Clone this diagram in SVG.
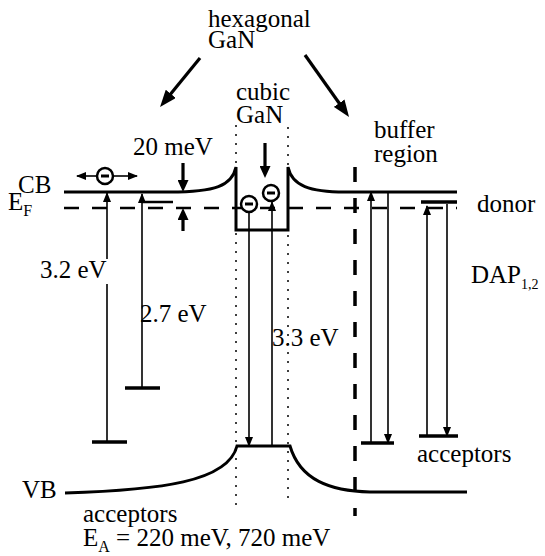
<svg xmlns="http://www.w3.org/2000/svg" width="545" height="556" viewBox="0 0 545 556">
<style>
.t{font-family:'Liberation Serif','DejaVu Serif','Times New Roman',serif;font-size:25px;fill:#000}
.sub{font-size:16px}
.band{fill:none;stroke:#000;stroke-width:3}
.lvl{stroke:#000;stroke-width:3.5}
.tr{stroke:#000;stroke-width:1.6;fill:none}
.big{stroke:#000;stroke-width:3.2;fill:none}
.dot{stroke:#000;stroke-width:1.5;stroke-dasharray:2 7;fill:none}
.ef{stroke:#000;stroke-width:2.5;stroke-dasharray:15 13;fill:none}
.buf{stroke:#000;stroke-width:3.5;stroke-dasharray:15 16;fill:none}
.el{fill:#fff;stroke:#000;stroke-width:2.5}
.minus{stroke:#000;stroke-width:3}
</style>
<defs>
<marker id="sa" markerUnits="userSpaceOnUse" markerWidth="10" markerHeight="8" refX="9" refY="4" orient="auto"><path d="M0,0 L10,4 L0,8 z" fill="#000"/></marker>
<marker id="ma" markerUnits="userSpaceOnUse" markerWidth="12" markerHeight="11" refX="6" refY="5.5" orient="auto"><path d="M0,0 L12,5.5 L0,11 z" fill="#000"/></marker>
<marker id="ba" markerUnits="userSpaceOnUse" markerWidth="17" markerHeight="13" refX="9" refY="6.5" orient="auto"><path d="M0,0 L17,6.5 L0,13 z" fill="#000"/></marker>
</defs>

<g id="labels" class="t" font-family="Liberation Serif, DejaVu Serif, serif" font-size="25">
<text x="208" y="27">hexagonal</text>
<text x="208" y="48">GaN</text>
<text x="236" y="100">cubic</text>
<text x="236" y="123">GaN</text>
<text x="374" y="138">buffer</text>
<text x="374" y="162">region</text>
<text x="133" y="155">20 meV</text>
<text x="18" y="193">CB</text>
<text x="8" y="210">E<tspan class="sub" dy="6">F</tspan></text>
<text x="40" y="278">3.2 eV</text>
<text x="140" y="322">2.7 eV</text>
<text x="272" y="346">3.3 eV</text>
<text x="477" y="212">donor</text>
<text x="471" y="283">DAP<tspan font-size="14" dy="6">1,2</tspan></text>
<text x="417" y="462">acceptors</text>
<text x="22" y="498">VB</text>
<text x="83" y="522">acceptors</text>
<text x="83" y="546">E<tspan class="sub" dy="6">A</tspan><tspan dy="-6"> = 220 meV, 720 meV</tspan></text>
</g>

<g id="bands">
<path class="band" d="M64,192 L170,192 C215,192 232,186 236,167 L236,230 L288,230 L288,167 C292,186 310,192 345,192 L457,192"/>
<path class="band" d="M65,493 C160,490 228,482 237,446 L290,446 C300,480 330,491 370,492 L467,492"/>
<line class="ef" x1="64" y1="208" x2="457" y2="208"/>
<line class="dot" x1="236" y1="125" x2="236" y2="505"/>
<line class="dot" x1="288" y1="127" x2="288" y2="505"/>
<line class="buf" x1="355" y1="167" x2="355" y2="516"/>
</g>

<g id="levels">
<line class="lvl" x1="92" y1="442" x2="127" y2="442"/>
<line class="lvl" x1="125" y1="388" x2="160" y2="388"/>
<line x1="142" y1="202" x2="173" y2="202" stroke="#000" stroke-width="2.5"/>
<line class="lvl" x1="421" y1="202" x2="457" y2="202"/>
<line class="lvl" x1="361" y1="443" x2="394" y2="443"/>
<line class="lvl" x1="419" y1="436" x2="458" y2="436"/>
</g>

<g id="electrons">
<line class="tr" x1="97" y1="176" x2="77" y2="176" marker-end="url(#sa)"/>
<line class="tr" x1="113" y1="176" x2="137" y2="176" marker-end="url(#sa)"/>
<circle class="el" cx="105" cy="176" r="8"/><line class="minus" x1="101" y1="176" x2="109" y2="176"/>
<circle class="el" cx="249" cy="204" r="8"/><line class="minus" x1="245" y1="204" x2="253" y2="204"/>
<circle class="el" cx="271" cy="193" r="8"/><line class="minus" x1="267" y1="193" x2="275" y2="193"/>
</g>

<g id="connectors">
<line class="big" x1="200" y1="58" x2="165.1" y2="100.8" marker-end="url(#ba)"/>
<line class="big" x1="305" y1="55" x2="344.4" y2="110.5" marker-end="url(#ba)"/>
<line class="big" x1="265" y1="143" x2="265" y2="172" marker-end="url(#ma)"/>
<line class="big" x1="183" y1="163" x2="183" y2="186" marker-end="url(#ma)"/>
<line class="big" x1="183" y1="231" x2="183" y2="214" marker-end="url(#ma)"/>
<path class="tr" d="M107,442 L107,284 M107,259 L107,193" marker-end="url(#sa)"/>
<line class="tr" x1="142" y1="388" x2="142" y2="194" marker-end="url(#sa)"/>
<line class="tr" x1="249" y1="212" x2="249" y2="446" marker-end="url(#sa)"/>
<line class="tr" x1="272" y1="446" x2="272" y2="202" marker-end="url(#sa)"/>
<line class="tr" x1="371" y1="443" x2="371" y2="192" marker-end="url(#sa)"/>
<line class="tr" x1="388" y1="192" x2="388" y2="443" marker-end="url(#sa)"/>
<line class="tr" x1="427" y1="436" x2="427" y2="206" marker-end="url(#sa)"/>
<line class="tr" x1="447" y1="204" x2="447" y2="436" marker-end="url(#sa)"/>
</g>
</svg>
